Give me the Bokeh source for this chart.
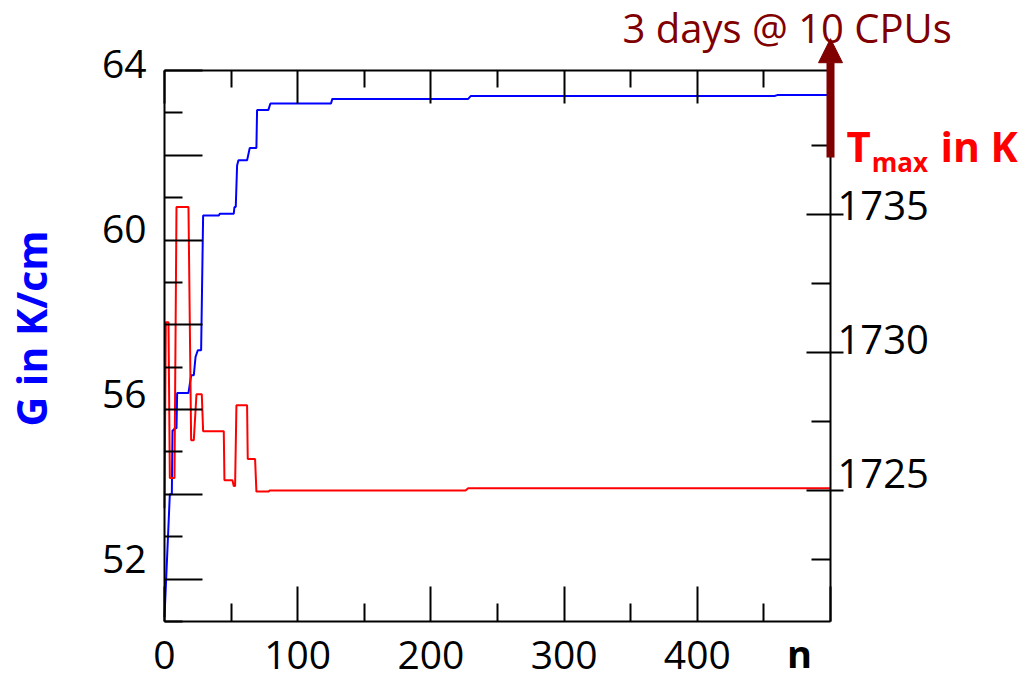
import math
from bokeh.plotting import figure
from bokeh.models import (Range1d, LinearAxis, FixedTicker, Label, Arrow, NormalHead)
from bokeh.embed import file_html
from bokeh.resources import INLINE

# ---- data ----
g_n = [0, 4, 5.5, 6, 7, 7.5, 9, 9.5, 18, 20, 22, 23.3, 25, 27.5, 29, 40.8, 41.5,
       52, 52.5, 53.5, 54.5, 55.5, 62, 64, 69, 69.5, 78, 79.5, 125, 126, 228, 230,
       458, 460, 500]
g_val = [51.1, 54.0, 54.0, 55.51, 55.51, 55.56, 55.56, 56.39, 56.39, 56.81, 56.81,
         57.24, 57.40, 57.40, 60.58, 60.58, 60.62, 60.62, 60.78, 60.78, 61.76,
         61.88, 61.88, 62.17, 62.17, 63.07, 63.07, 63.22, 63.22, 63.33, 63.33,
         63.40, 63.40, 63.42, 63.42]

t_n = [0, 1, 3, 4, 7.5, 9, 18, 20, 22, 24, 28, 29, 44.5, 45, 51, 52, 53, 54, 62,
       62.5, 68, 69, 78, 79, 226, 228, 500]
t_val = [1724.36, 1731.1, 1731.1, 1725.45, 1725.45, 1735.28, 1735.28, 1726.82,
         1726.82, 1728.49, 1728.49, 1727.15, 1727.15, 1725.37, 1725.37, 1725.16,
         1725.16, 1728.09, 1728.09, 1726.14, 1726.14, 1724.96, 1724.96, 1725.0,
         1725.0, 1725.08, 1725.08]

x_major = [0, 100, 200, 300, 400, 500]
x_minor = [50, 150, 250, 350, 450]
g_major = [52, 54, 56, 58, 60, 62, 64]
g_minor = [51, 53, 55, 57, 59, 61, 63]
g_labels = [52, 56, 60, 64]
t_major = [1725, 1730, 1735]
t_minor = [1722.5, 1727.5, 1732.5, 1737.5]

FONT = "Open Sans"
W, H = 1020, 680
# chart box inside the canvas (canvas pixels)
BL, BR, BT, BB = 164, 830, 70, 621
kx = (BR - BL) / 500.0
ky = (BB - BT) / 13.0
kt = (BB - BT) / (1740.23 - 1720.25)

x_rng = Range1d(-BL / kx, 500 + (W - BR) / kx)
y_rng = Range1d(64 - (H - BT) / ky, 64 + BT / ky)

p = figure(width=W, height=H, output_backend="svg", toolbar_location=None,
           x_range=x_rng, y_range=y_rng,
           x_axis_location=None, y_axis_location=None,
           min_border=0, min_border_left=0, min_border_right=0,
           min_border_top=0, min_border_bottom=0)
p.outline_line_color = None
p.xgrid.visible = False
p.ygrid.visible = False
p.background_fill_color = "white"
p.border_fill_color = "white"

p.extra_y_ranges = {
    "T": Range1d(1740.23 - (H - BT) / kt, 1740.23 + BT / kt),
    "Tlab": Range1d(1742.649 - H / 26.8, 1742.649),
    "Glab": Range1d(65.529 - H / 41.275, 65.529),
}


def style(ax, tin, tout, min_in, min_out, size="39px", show=True):
    ax.axis_line_color = "black"
    ax.axis_line_width = 2
    ax.major_tick_line_color = "black"
    ax.major_tick_line_width = 2
    ax.minor_tick_line_color = "black"
    ax.minor_tick_line_width = 2
    ax.major_tick_in = tin
    ax.major_tick_out = tout
    ax.minor_tick_in = min_in
    ax.minor_tick_out = min_out
    ax.major_label_text_font = FONT
    ax.major_label_text_font_size = size
    ax.major_label_text_color = "black" if show else None


def labels_only(ax):
    ax.axis_line_color = None
    ax.major_tick_line_color = None
    ax.minor_tick_line_color = None


# left: spine + ticks
left_ticks = LinearAxis(ticker=FixedTicker(ticks=g_major, minor_ticks=g_minor),
                        fixed_location=0, bounds=(51, 64))
style(left_ticks, 38, 0, 18, 0, show=False)
p.add_layout(left_ticks, "left")

# left: labels
left_lab = LinearAxis(y_range_name="Glab", fixed_location=0, bounds=(50, 65),
                      ticker=FixedTicker(ticks=g_labels, minor_ticks=[]))
style(left_lab, 0, 0, 0, 0)
labels_only(left_lab)
left_lab.major_label_standoff = 18
p.add_layout(left_lab, "left")

# right: spine + ticks
right_ticks = LinearAxis(y_range_name="T", fixed_location=500,
                         bounds=(1720.25, 1740.23),
                         ticker=FixedTicker(ticks=t_major, minor_ticks=t_minor))
style(right_ticks, 24, 13, 19, 0, show=False)
p.add_layout(right_ticks, "right")

# right: labels
right_lab = LinearAxis(y_range_name="Tlab", fixed_location=500, bounds=(1720, 1740),
                       ticker=FixedTicker(ticks=t_major, minor_ticks=[]))
style(right_lab, 0, 0, 0, 0, size="40px")
labels_only(right_lab)
right_lab.major_label_standoff = 7
p.add_layout(right_lab, "right")

# top
top_ax = LinearAxis(ticker=FixedTicker(ticks=x_major, minor_ticks=x_minor),
                    fixed_location=64, bounds=(0, 500))
style(top_ax, 33, 0, 17, 0, show=False)
p.add_layout(top_ax, "above")

# bottom
bot_ax = LinearAxis(ticker=FixedTicker(ticks=x_major, minor_ticks=x_minor),
                    fixed_location=51, bounds=(0, 500))
style(bot_ax, 35, 0, 18, 0)
bot_ax.major_label_overrides = {500: ""}
bot_ax.major_label_standoff = 19
p.add_layout(bot_ax, "below")

# data lines
p.line(g_n, g_val, line_color="#0000FF", line_width=2)
p.line(t_n, t_val, line_color="#FF0000", line_width=2, y_range_name="T")

# arrow and texts
p.add_layout(Arrow(end=NormalHead(size=24, fill_color="#800000", line_color="#800000"),
                   x_start=500, y_start=61.95, x_end=500, y_end=64.75,
                   line_color="#800000", line_width=8))

p.add_layout(Label(x=343.8, y=65.0145, text="3 days @ 10 CPUs", text_color="#800000",
                   text_font=FONT, text_font_size="40px", text_baseline="middle",
                   text_align="left"))
p.add_layout(Label(x=512, y=62.24, text="T", text_color="#FF0000", text_font=FONT,
                   text_font_size="42px", text_font_style="bold",
                   text_baseline="middle", text_align="left"))
p.add_layout(Label(x=531, y=61.851, text="max", text_color="#FF0000", text_font=FONT,
                   text_font_size="26px", text_font_style="bold",
                   text_baseline="middle", text_align="left"))
p.add_layout(Label(x=582.5, y=62.23, text="in K", text_color="#FF0000", text_font=FONT,
                   text_font_size="41px", text_font_style="bold",
                   text_baseline="middle", text_align="left"))
p.add_layout(Label(x=476.7, y=50.257, text="n", text_color="black", text_font=FONT,
                   text_font_size="38px", text_font_style="bold",
                   text_baseline="middle", text_align="center"))
p.add_layout(Label(x=-100.2, y=57.913, text="G in K/cm", text_color="#0000FF",
                   text_font=FONT, text_font_size="41px", text_font_style="bold",
                   text_baseline="middle", text_align="center",
                   angle=math.pi / 2))

open("out.html", "w").write(file_html(p, INLINE))
